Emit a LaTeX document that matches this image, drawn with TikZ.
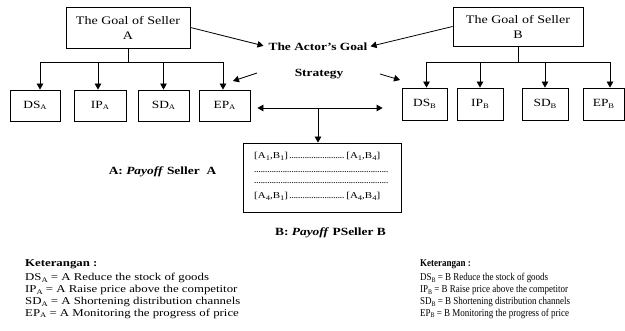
\documentclass[tikz,border=0pt]{standalone}
\usepackage{fontspec}
\setmainfont{Liberation Serif}[FakeStretch=1.22]
\newfontfamily\narrowfont{Liberation Serif}[FakeStretch=0.855]
\usetikzlibrary{arrows.meta}
\newcommand\lsub[1]{\raisebox{-0.3ex}{\fontsize{7}{7}\selectfont #1}}
\newcommand\dline{\leaders\hbox to 2.2pt{\hss.\hss}\hfill}
\begin{document}
\begin{tikzpicture}[x=1pt,y=-1pt,
  ln/.style={line width=0.8pt},
  arr/.style={line width=0.8pt,-{Triangle[length=6pt,width=6.5pt]}},
  goal/.style={draw,line width=0.8pt,inner sep=0pt,align=center,font=\fontsize{11.5}{15}\selectfont},
  sbox/.style={draw,line width=0.8pt,inner sep=0pt,font=\fontsize{11}{12}\selectfont},
  bold/.style={inner sep=0pt,font=\fontsize{11}{12}\selectfont\bfseries},
  ptxt/.style={inner sep=0pt,anchor=base west,font=\fontsize{9}{10}\selectfont},
  leg/.style={inner sep=0pt,anchor=base west,font=\fontsize{10.5}{12}\selectfont},
  legn/.style={inner sep=0pt,anchor=base west,font=\fontsize{10.5}{12}\selectfont\narrowfont}]
\useasboundingbox (0,0) rectangle (625,331);

% goal boxes
\node[goal,minimum width=124pt,minimum height=41pt] (goalA) at (128,27.5) {The Goal of Seller\\A};
\node[goal,minimum width=130pt,minimum height=39pt] (goalB) at (518,26.5) {The Goal of Seller\\B};

% strategy boxes A
\node[sbox,minimum width=50pt,minimum height=31pt] (dsA) at (35,105.5) {DS\lsub{A}};
\node[sbox,minimum width=52pt,minimum height=31pt] (ipA) at (100,105.5) {IP\lsub{A}};
\node[sbox,minimum width=51pt,minimum height=31pt] (sdA) at (163.5,105.5) {SD\lsub{A}};
\node[sbox,minimum width=51pt,minimum height=31pt] (epA) at (224.5,105.5) {EP\lsub{A}};
% strategy boxes B
\node[sbox,minimum width=45pt,minimum height=32pt] (dsB) at (424.5,104) {DS\lsub{B}};
\node[sbox,minimum width=46pt,minimum height=32pt] (ipB) at (480,104) {IP\lsub{B}};
\node[sbox,minimum width=46pt,minimum height=32pt] (sdB) at (545,104) {SD\lsub{B}};
\node[sbox,minimum width=41pt,minimum height=32pt] (epB) at (603.5,104) {EP\lsub{B}};

% tree A
\draw[arr] (goalA.south) -- ++(0,14) -| ([xshift=5pt]dsA.north);
\draw[arr] (goalA.south) -- ++(0,14) -| ([xshift=-2pt]ipA.north);
\draw[arr] (goalA.south) -- ++(0,14) -| (sdA.north);
\draw[arr] (goalA.south) -- ++(0,14) -| ([xshift=-1.5pt]epA.north);
% tree B
\draw[arr] (goalB.south) -- ++(0,16.5) -| ([xshift=2pt]dsB.north);
\draw[arr] (goalB.south) -- ++(0,16.5) -| (ipB.north);
\draw[arr] (goalB.south) -- ++(0,16.5) -| (sdB.north);
\draw[arr] (goalB.south) -- ++(0,16.5) -| ([xshift=6.5pt]epB.north);

% actor's goal
\node[bold] (act1) at (318,47) {The Actor's Goal};
\node[bold] (act2) at (319,74) {Strategy};
\draw[arr,shorten >=5pt] (goalA.east) -- (act1.west);
\draw[arr,shorten >=3pt] (goalB.west) -- (act1.east);
\coordinate (sa1) at (257,73);
\coordinate (sa2) at (233,81);
\coordinate (sb1) at (380,74);
\coordinate (sb2) at (400,80);
\draw[arr] (sa1) -- (sa2);
\draw[arr] (sb1) -- (sb2);

% payoff box
\node[draw,line width=0.8pt,inner sep=0pt,minimum width=158pt,minimum height=69pt] (pay) at (322,177.5) {};
\coordinate (hub) at (318,108);
\draw[arr,shorten >=7pt] (hub) -- (hub -| epA.east);
\draw[arr,shorten >=19pt] (hub) -- (hub -| dsB.west);
\draw[arr] (hub) -- (hub |- pay.north);

\node[ptxt] (p1) at (254,159) {\makebox[126pt][s]{[A\lsub{1},B\lsub{1}]\dline[A\lsub{1},B\lsub{4}]}};
\node[ptxt] (p2) at (254,173) {\makebox[136pt][s]{\dline}};
\node[ptxt] (p3) at (254,184) {\makebox[136pt][s]{\dline}};
\node[ptxt] (p4) at (254,199) {\makebox[126pt][s]{[A\lsub{4},B\lsub{1}]\dline[A\lsub{4},B\lsub{4}]}};

\node[bold] (labA) at (162.5,172) {A: \textit{Payoff} Seller\ \ A};
\node[bold] (labB) at (330.5,233) {B: \textit{Payoff} PSeller B};

% legends
\node[leg] (ka) at (25,266.5) {\textbf{Keterangan :}};
\node[leg] (ka1) at (25,281) {DS\lsub{A} = A Reduce the stock of goods};
\node[leg] (ka2) at (25,293) {IP\lsub{A} = A Raise price above the competitor};
\node[leg] (ka3) at (25,305) {SD\lsub{A} = A Shortening distribution channels};
\node[leg] (ka4) at (25,316.5) {EP\lsub{A} = A Monitoring the progress of price};

\node[legn] (kb) at (420,266.5) {\textbf{Keterangan :}};
\node[legn] (kb1) at (420,281) {DS\lsub{B} = B Reduce the stock of goods};
\node[legn] (kb2) at (420,293) {IP\lsub{B} = B Raise price above the competitor};
\node[legn] (kb3) at (420,305) {SD\lsub{B} = B Shortening distribution channels};
\node[legn] (kb4) at (420,316.5) {EP\lsub{B} = B Monitoring the progress of price};
\end{tikzpicture}
\end{document}
